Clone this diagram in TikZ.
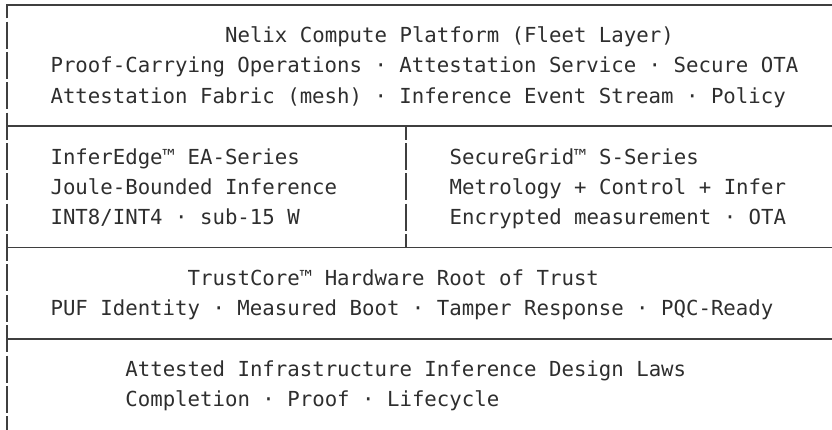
\documentclass[tikz,border=0pt]{standalone}
\usepackage{fontspec}
\setmonofont{DejaVu Sans Mono}

\definecolor{inkgray}{HTML}{2E2E2E}
\definecolor{rulegray}{HTML}{3F3F3F}

\tikzset{
  asciitext/.style={anchor=base west, inner sep=0pt, text=inkgray,
    font=\ttfamily\fontsize{20.7}{30}\selectfont},
  boxrule/.style={draw=rulegray, line width=1.7pt},
}

\begin{document}
\begin{tikzpicture}[x=1pt,y=-1pt]
\useasboundingbox (0,0) rectangle (832,430);

% one text row = 30.35, one column = 12.47
\node[asciitext] (fleet) at (224.9,42.65) {Nelix Compute Platform (Fleet Layer)};
\node[asciitext] (fleetA) at (50.35,73.0) {Proof-Carrying Operations · Attestation Service · Secure OTA};
\node[asciitext] (fleetB) at (50.35,103.35) {Attestation Fabric (mesh) · Inference Event Stream · Policy};

\node[asciitext] (edge) at (50.35,164.05) {InferEdge™ EA-Series};
\node[asciitext] (edgeA) at (50.35,194.4) {Joule-Bounded Inference};
\node[asciitext] (edgeB) at (50.35,224.75) {INT8/INT4 · sub-15 W};

\node[asciitext] (grid) at (449.4,164.05) {SecureGrid™ S-Series};
\node[asciitext] (gridA) at (449.4,194.4) {Metrology + Control + Infer};
\node[asciitext] (gridB) at (449.4,224.75) {Encrypted measurement · OTA};

\node[asciitext] (trust) at (187.5,285.45) {TrustCore™ Hardware Root of Trust};
\node[asciitext] (trustA) at (50.35,315.8) {PUF Identity · Measured Boot · Tamper Response · PQC-Ready};

\node[asciitext] (laws) at (125.2,376.5) {Attested Infrastructure Inference Design Laws};
\node[asciitext] (lawsA) at (125.2,406.85) {Completion · Proof · Lifecycle};

% frame
\draw[boxrule] (6.7,18.3) -- (6.7,4.8) -- (832,4.8);
\foreach \k in {1,...,14}
  \draw[boxrule] (6.7,{4.8+30.35*\k-13.5}) -- ++(0,27);
\foreach \y in {126.2,247.6,338.65}
  \draw[boxrule] (6.7,\y) -- (832,\y);

% split between the two series
\draw[boxrule] (405.7,126.2) -- (405.7,139.7);
\foreach \k in {5,6,7}
  \draw[boxrule] (405.7,{4.8+30.35*\k-13.5}) -- ++(0,27);
\draw[boxrule] (405.7,234.1) -- (405.7,247.6);
\end{tikzpicture}
\end{document}
